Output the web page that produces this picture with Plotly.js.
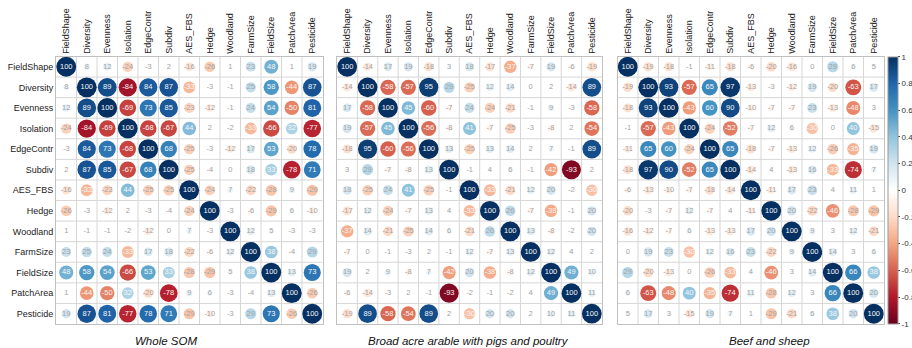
<!DOCTYPE html>
<html>
<head>
<meta charset="utf-8">
<script src="https://cdn.plot.ly/plotly-3.0.1.min.js"></script>
<style>
  html, body { margin: 0; padding: 0; background: #fff; }
  #chart { width: 912px; height: 348px; }
</style>
</head>
<body>
<div id="chart"></div>
<script>
// Landscape metric names (rows and columns of every matrix)
const variables = ["FieldShape", "Diversity", "Evenness", "Isolation", "EdgeContr", "Subdiv",
  "AES_FBS", "Hedge", "Woodland", "FarmSize", "FieldSize", "PatchArea", "Pesticide"];

// Correlation coefficients (x100), one row per variable
const wholeSOM = [
  [100, 8, 12, -24, -3, 2, -16, -26, 1, 23, 48, 1, 19],
  [8, 100, 89, -84, 84, 87, -33, -3, -1, 25, 58, -44, 87],
  [12, 89, 100, -69, 73, 85, -23, -12, -1, 24, 54, -50, 81],
  [-24, -84, -69, 100, -68, -67, 44, 2, -2, -33, -66, 32, -77],
  [-3, 84, 73, -68, 100, 68, -25, -3, -12, 17, 53, -20, 78],
  [2, 87, 85, -67, 68, 100, -25, -4, 0, 18, 33, -78, 71],
  [-16, -33, -23, 44, -25, -25, 100, -24, 7, -22, -28, 9, -29],
  [-26, -3, -12, 2, -3, -4, -24, 100, -3, -6, -29, 6, -10],
  [1, -1, -1, -2, -12, 0, 7, -3, 100, 12, 5, -3, -3],
  [23, 25, 24, -33, 17, 18, -22, -6, 12, 100, 38, -4, 29],
  [48, 58, 54, -66, 53, 33, -28, -29, 5, 38, 100, 13, 73],
  [1, -44, -50, 32, -20, -78, 9, 6, -3, -4, 13, 100, -26],
  [19, 87, 81, -77, 78, 71, -29, -10, -3, 29, 73, -26, 100]
];

const broadAcre = [
  [100, -14, 17, 19, -18, 3, 18, -17, -37, -7, 19, -6, -19],
  [-14, 100, -58, -57, 95, 29, -25, 12, 14, 0, 2, -14, 89],
  [17, -58, 100, 45, -60, -7, 24, -24, -21, -1, 9, -3, -58],
  [19, -57, 45, 100, -56, -8, 41, -7, -25, -3, -8, 2, -54],
  [-18, 95, -60, -56, 100, 13, -25, 13, 14, 2, 7, -1, 89],
  [3, 29, -7, -8, 13, 100, -1, 4, 6, -1, -42, -93, 2],
  [18, -25, 24, 41, -25, -1, 100, -33, -21, 12, 20, -2, -30],
  [-17, 12, -24, -7, 13, 4, -33, 100, 26, -7, -38, -1, 20],
  [-37, 14, -21, -25, 14, 6, -21, 26, 100, 13, -8, -2, 20],
  [-7, 0, -1, -3, 2, -1, 12, -7, 13, 100, 12, 4, 2],
  [19, 2, 9, -8, 7, -42, 20, -38, -8, 12, 100, 49, 10],
  [-6, -14, -3, 2, -1, -93, -2, -1, -2, 4, 49, 100, 11],
  [-19, 89, -58, -54, 89, 2, -30, 20, 20, 2, 10, 11, 100]
];

const beefSheep = [
  [100, -19, -18, -1, -11, -18, -6, -20, -16, 0, 29, 6, 5],
  [-19, 100, 93, -57, 65, 97, -13, -3, -12, 19, -20, -63, 17],
  [-18, 93, 100, -43, 60, 90, -10, -7, -7, 23, -13, -48, 3],
  [-1, -57, -43, 100, -24, -52, -7, 12, 6, -30, 0, 40, -15],
  [-11, 65, 60, -24, 100, 65, -18, -7, -13, 12, -26, -35, 19],
  [-18, 97, 90, -52, 65, 100, -14, 4, -13, 16, -33, -74, 7],
  [-6, -13, -10, -7, -18, -14, 100, -11, 17, 23, 4, 11, 1],
  [-20, -3, -7, 12, -7, 4, -11, 100, 20, -22, -46, -28, -29],
  [-16, -12, -7, 6, -13, -13, 17, 20, 100, 9, 3, 12, -21],
  [0, 19, 23, -30, 12, 16, 23, -22, 9, 100, 14, 3, 6],
  [29, -20, -13, 0, -26, -33, 4, -46, 3, 14, 100, 66, 38],
  [6, -63, -48, 40, -35, -74, 11, -28, 12, 3, 66, 100, 20],
  [5, 17, 3, -15, 19, 7, 1, -29, -21, 6, 38, 20, 100]
];

const panelTitles = ["Whole SOM", "Broad acre arable with pigs and poultry", "Beef and sheep"];
const colorbarTicks = [1, 0.8, 0.6, 0.4, 0.2, 0, -0.2, -0.4, -0.6, -0.8, -1];

// ---- drawing ----
const W = 912, H = 348;
const FONT = "Liberation Sans, Arial, sans-serif";
const matrices = [wholeSOM, broadAcre, beefSheep];

// Red-blue diverging palette (-1 .. 1)
const rdbu = ["#67001F", "#B2182B", "#D6604D", "#F4A582", "#FDDBC7", "#FFFFFF",
  "#D1E5F0", "#92C5DE", "#4393C3", "#2166AC", "#053061"];
const colorscale = rdbu.map((c, i) => [i / (rdbu.length - 1), c]);

// plot areas in pixels
const panelPx = [[56, 322.5], [337, 602], [617.5, 884]];
const gridTop = 56.5, gridBottom = 324;
const titleCentres = [166, 469, 769];

const n = variables.length;
const idx = variables.map((_, i) => i);
const traces = [];
const shapes = [];
const annotations = [];
const layout = {
  width: W, height: H,
  margin: { l: 0, r: 0, t: 0, b: 0, pad: 0, autoexpand: false },
  paper_bgcolor: "#ffffff", plot_bgcolor: "#ffffff",
  showlegend: false,
  font: { family: FONT, color: "#222" }
};

matrices.forEach((mat, p) => {
  const suffix = p === 0 ? "" : String(p + 1);
  const xName = "x" + suffix, yName = "y" + suffix;
  const xDom = [panelPx[p][0] / W, panelPx[p][1] / W];
  const yDom = [1 - gridBottom / H, 1 - gridTop / H];
  const cell = (panelPx[p][1] - panelPx[p][0]) / n;

  layout["xaxis" + suffix] = {
    domain: xDom, anchor: yName, range: [-0.5, n - 0.5],
    tickmode: "array", tickvals: idx, ticktext: variables,
    side: "top", tickangle: -90, ticks: "",
    tickfont: { size: 9, color: "#222", family: FONT },
    showgrid: false, zeroline: false,
    showline: true, mirror: true, linecolor: "#c0c0c0", linewidth: 1,
    fixedrange: true
  };
  layout["yaxis" + suffix] = {
    domain: yDom, anchor: xName, range: [n - 0.5, -0.5],
    tickmode: "array", tickvals: idx, ticktext: variables,
    showticklabels: p === 0, ticks: "",
    tickfont: { size: 9, color: "#222", family: FONT },
    showgrid: false, zeroline: false,
    showline: true, mirror: true, linecolor: "#c0c0c0", linewidth: 1,
    fixedrange: true
  };

  // cell borders
  for (let k = 1; k < n; k++) {
    shapes.push({ type: "line", layer: "below", xref: xName, yref: yName + " domain",
      x0: k - 0.5, x1: k - 0.5, y0: 0, y1: 1, line: { color: "#d6d6d6", width: 1 } });
    shapes.push({ type: "line", layer: "below", xref: xName + " domain", yref: yName,
      x0: 0, x1: 1, y0: k - 0.5, y1: k - 0.5, line: { color: "#d6d6d6", width: 1 } });
  }

  const xs = [], ys = [], r = [], sizes = [], labels = [], tcol = [];
  mat.forEach((row, i) => row.forEach((v, j) => {
    const a = Math.abs(v) / 100;
    xs.push(j); ys.push(i); r.push(v / 100);
    // circle area follows |r|
    sizes.push(0.92 * cell * Math.sqrt(a) + (a > 0 ? 1 : 0));
    labels.push(String(v));
    tcol.push(a >= 0.3 ? "#f6f6f6" : "#a3a3a3");
  }));

  traces.push({
    type: "scatter", mode: "markers+text",
    xaxis: xName, yaxis: yName,
    x: xs, y: ys, text: labels,
    textposition: "middle center",
    textfont: { size: 7.5, color: tcol, family: FONT },
    cliponaxis: false, hoverinfo: "skip",
    marker: {
      size: sizes, sizemode: "diameter",
      color: r, cmin: -1, cmax: 1, colorscale: colorscale,
      line: { width: 0 }, opacity: 1,
      showscale: p === matrices.length - 1,
      colorbar: {
        x: 888 / W, xanchor: "left", y: 1 - ((gridTop + 1) + (gridBottom - 1)) / 2 / H, yanchor: "middle",
        thickness: 10, thicknessmode: "pixels",
        len: (gridBottom - gridTop - 1) / H, lenmode: "fraction",
        xpad: 0, ypad: 0,
        tickmode: "array", tickvals: colorbarTicks, ticktext: colorbarTicks.map(String),
        ticks: "outside", ticklen: 2, tickcolor: "#444",
        tickfont: { size: 8, color: "#333", family: FONT },
        outlinewidth: 1, outlinecolor: "#9a9a9a"
      }
    }
  });

  annotations.push({
    xref: "paper", yref: "paper", x: titleCentres[p] / W, y: 1 - 341 / H,
    xanchor: "center", yanchor: "middle", showarrow: false,
    text: "<i>" + panelTitles[p] + "</i>",
    font: { size: 11.5, color: "#111", family: FONT }
  });
});

layout.shapes = shapes;
layout.annotations = annotations;

Plotly.newPlot("chart", traces, layout, { staticPlot: true, displayModeBar: false });
</script>
</body>
</html>
